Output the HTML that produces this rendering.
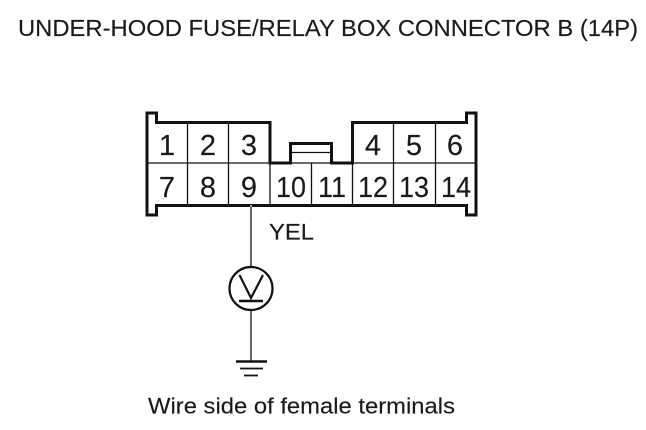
<!DOCTYPE html>
<html>
<head>
<meta charset="utf-8">
<style>
html,body{margin:0;padding:0;background:#fff;width:646px;height:430px;overflow:hidden}
svg{display:block}
text{font-family:"Liberation Sans",sans-serif;fill:#1a1a1a;stroke:#1a1a1a;stroke-width:.15}
</style>
</head>
<body>
<svg width="646" height="430" viewBox="0 0 646 430" xmlns="http://www.w3.org/2000/svg">
<text x="18" y="36" font-size="23" textLength="620" lengthAdjust="spacingAndGlyphs">UNDER-HOOD FUSE/RELAY BOX CONNECTOR B (14P)</text>
<g fill="none" stroke="#111">
<path stroke-width="3" d="M156.500 122.500V113H147V215H156.500V205.500H466.500V215H476V113H466.500V122.500H352.500V163H331.500V143.500H290.500V163H270V122.500H156.500Z"/>
<path stroke-width="1.300" d="M147 163H476M290.500 152.500H331.500M187.500 122V205M228.500 122V205M270 163V205M311.500 163V205M352.500 163V205M393.500 122V205M435.500 122V205"/>
<path stroke-width="1.300" d="M251 207V267M251 310V361"/>
<path stroke="#aaa" stroke-width="2" d="M251 205V207"/>
<circle cx="251" cy="288.500" r="21.500" stroke-width="2.200"/>
<path stroke-width="2.200" d="M239.500 275L251 298L263 275"/>
<path stroke-width="2.500" d="M239 301H263M236 361.500H267"/>
<path stroke-width="1.800" d="M240 368.500H263M244 375.500H258"/>
</g>
<g font-size="29" text-anchor="middle">
<text x="167" y="155">1</text><text x="208" y="155">2</text><text x="249" y="155">3</text>
<text x="373" y="155">4</text><text x="414" y="155">5</text><text x="455" y="155">6</text>
<text x="167" y="197">7</text><text x="208" y="197">8</text><text x="249" y="197">9</text>
<text x="291" y="197" textLength="30" lengthAdjust="spacingAndGlyphs">10</text><text x="332" y="197" textLength="28" lengthAdjust="spacingAndGlyphs">11</text><text x="373" y="197" textLength="30" lengthAdjust="spacingAndGlyphs">12</text><text x="414" y="197" textLength="30" lengthAdjust="spacingAndGlyphs">13</text><text x="456" y="197" textLength="30" lengthAdjust="spacingAndGlyphs">14</text>
</g>
<text x="269" y="239.500" font-size="22.500" textLength="45" lengthAdjust="spacingAndGlyphs">YEL</text>
<text x="148" y="413.500" font-size="22.500" textLength="307" lengthAdjust="spacingAndGlyphs">Wire side of female terminals</text>
</svg>
</body>
</html>
